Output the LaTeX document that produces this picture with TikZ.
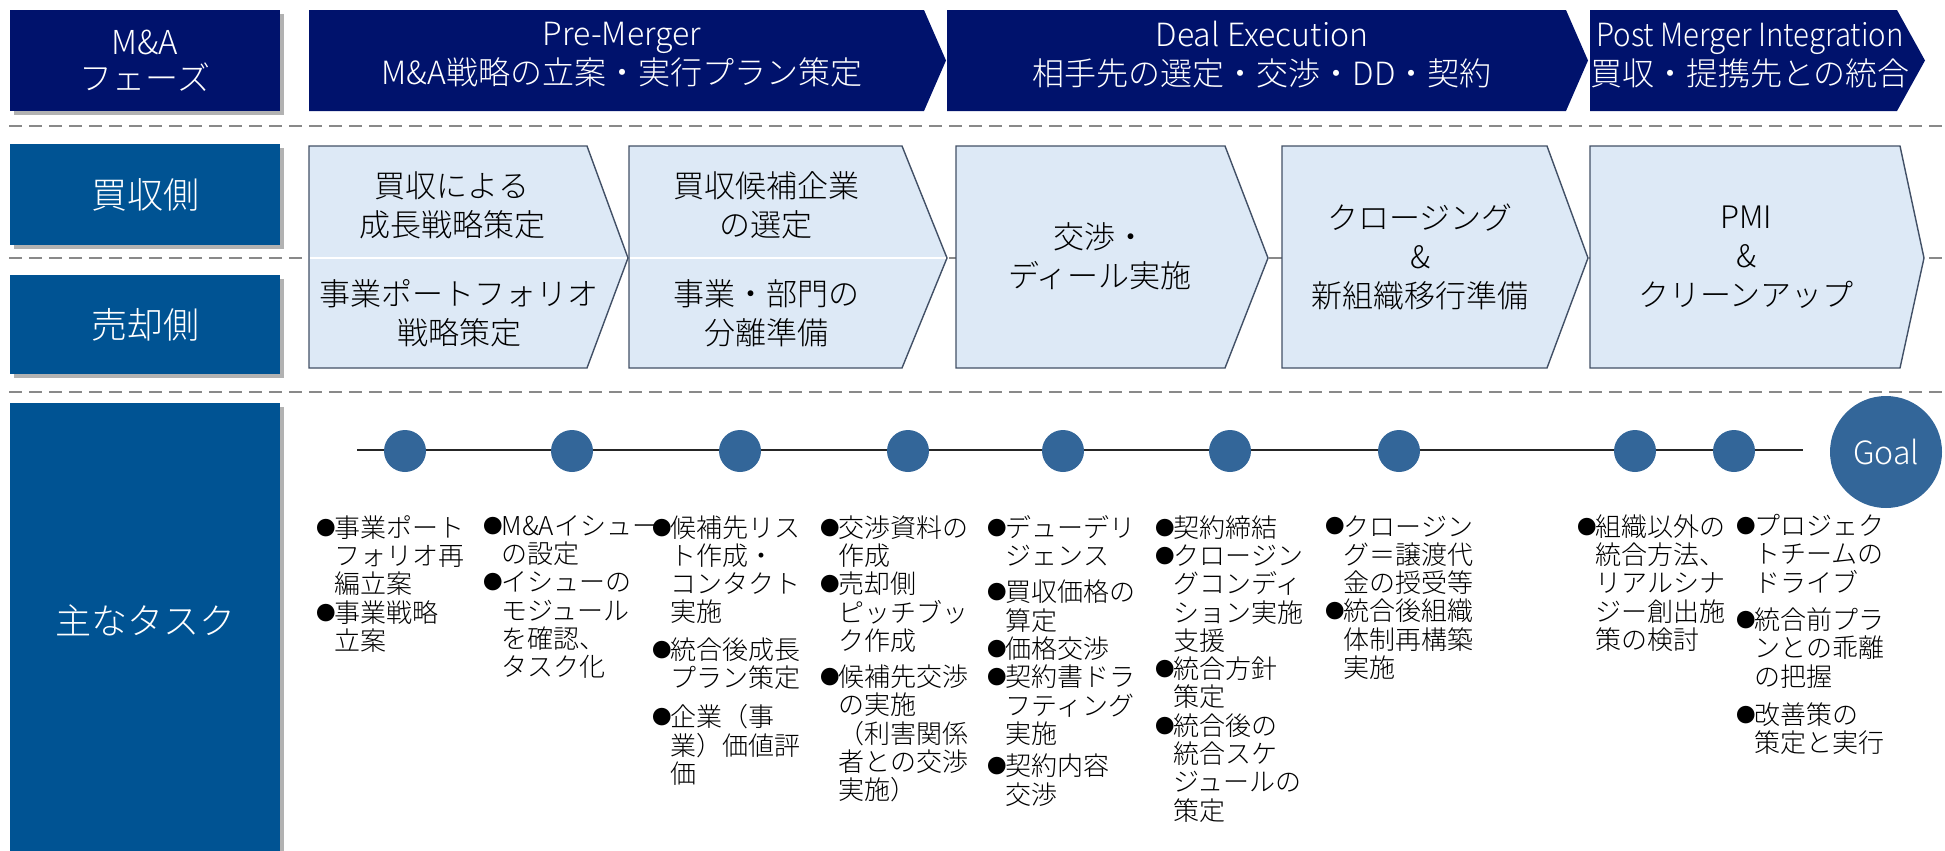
\documentclass[tikz,border=0pt]{standalone}
\usepackage{fontspec}
\usepackage{graphicx}
\setmainfont{Noto Sans CJK JP Light}
\usetikzlibrary{shadows}

\definecolor{phasenavy}{RGB}{0,18,108}
\definecolor{sideblue}{RGB}{0,83,147}
\definecolor{chevfill}{RGB}{221,233,246}
\definecolor{chevline}{RGB}{66,80,102}
\definecolor{dotblue}{RGB}{51,102,153}
\definecolor{dashgray}{RGB}{137,137,137}

\newcommand{\bul}{\makebox[0.7em][l]{\raisebox{0.08em}{\scalebox{0.75}{●}}}}
\newcommand{\cont}{\hspace*{0.7em}}

\begin{document}
\begin{tikzpicture}[x=0.5pt, y=-0.5pt,
	sidebox/.style={fill=sideblue, text=white, align=center, inner sep=0,
		minimum width=135pt, font=\fontsize{18}{22}\selectfont,
		drop shadow={shadow xshift=2pt, shadow yshift=-2pt, fill=black, opacity=0.3}},
	headtext/.style={text=white, align=center, font=\fontsize{16}{19.5}\selectfont},
	chev/.style={fill=chevfill, draw=chevline, line width=0.7pt},
	chevtext/.style={align=center, font=\fontsize{15.5}{19.5}\selectfont},
	task/.style={anchor=north west, inner sep=0, align=left, font=\fontsize{13}{14.15}\selectfont},
	dot/.style={circle, fill=dotblue, minimum size=21pt, inner sep=0},
	dashline/.style={draw=dashgray, line width=1.3pt, dash pattern=on 6.5pt off 3.5pt}]

	\useasboundingbox (0, 0) rectangle (1945, 851);

	% dashed separators
	\draw [dashline] (9, 126) -- (1945, 126);
	\draw [dashline] (9, 258) -- (1945, 258);
	\draw [dashline] (9, 392) -- (1945, 392);

	% phase header
	\node[sidebox, fill=phasenavy, minimum height=50.5pt, font=\fontsize{16.5}{18}\selectfont] (phase) at (145, 60.5) {M\&A\\フェーズ};
	\fill [phasenavy] (309, 10) -- (924, 10) -- (946, 60.5) -- (924, 111) -- (309, 111) -- cycle;
	\fill [phasenavy] (947, 10) -- (1566, 10) -- (1588, 60.5) -- (1566, 111) -- (947, 111) -- cycle;
	\fill [phasenavy] (1590, 10) -- (1897, 10) -- (1925, 60.5) -- (1897, 111) -- (1590, 111) -- cycle;
	\node[headtext] (pre) at (622, 55) {Pre-Merger\\M\&A戦略の立案・実行プラン策定};
	\node[headtext] (deal) at (1262, 55) {Deal Execution\\相手先の選定・交渉・DD・契約};
	\node[headtext] (pmi) at (1750, 55) {\scalebox{0.92}[1]{Post Merger Integration}\\買収・提携先との統合};

	% buy / sell side
	\node[sidebox, minimum height=50.5pt] (buy) at (145, 194.5) {買収側};
	\node[sidebox, minimum height=49.5pt] (sell) at (145, 324.5) {売却側};

	% chevrons
	\draw [chev] (309, 146) -- (587, 146) -- (628, 258) -- (587, 368) -- (309, 368) -- cycle;
	\draw [chev] (629, 146) -- (902, 146) -- (947, 258) -- (902, 368) -- (629, 368) -- cycle;
	\draw [chev] (956, 146) -- (1225, 146) -- (1268, 258) -- (1225, 368) -- (956, 368) -- cycle;
	\draw [chev] (1282, 146) -- (1547, 146) -- (1588, 258) -- (1547, 368) -- (1282, 368) -- cycle;
	\draw [chev] (1590, 146) -- (1900, 146) -- (1924, 258) -- (1900, 368) -- (1590, 368) -- cycle;
	\draw [white, line width=1.2pt] (310, 258) -- (627, 258);
	\draw [white, line width=1.2pt] (630, 258) -- (946, 258);

	\node[chevtext] (buy1) at (452, 205) {買収による\\成長戦略策定};
	\node[chevtext] (sell1) at (459, 313) {事業ポートフォリオ\\戦略策定};
	\node[chevtext] (buy2) at (766, 205) {買収候補企業\\の選定};
	\node[chevtext] (sell2) at (766, 313) {事業・部門の\\分離準備};
	\node[chevtext] (deal3) at (1100, 256) {交渉・\\ディール実施};
	\node[chevtext] (close4) at (1420, 257) {クロージング\\\&\\新組織移行準備};
	\node[chevtext] (pmi5) at (1746, 257) {PMI\\\&\\クリーンアップ};

	% main tasks
	\node[sidebox, minimum height=224pt] (taskbox) at (145, 627) {};
	\node[text=white, font=\fontsize{18}{22}\selectfont] (tasklbl) at (145, 620) {主なタスク};

	% timeline
	\coordinate (tlstart) at (357, 450);
	\coordinate (tlend) at (1803, 450);
	\draw [line width=1pt, black!85] (tlstart) -- (tlend);
	\node[dot] (m1) at (405, 451) {};
	\node[dot] (m2) at (572, 451) {};
	\node[dot] (m3) at (740, 451) {};
	\node[dot] (m4) at (908, 451) {};
	\node[dot] (m5) at (1063, 451) {};
	\node[dot] (m6) at (1230, 451) {};
	\node[dot] (m7) at (1399, 451) {};
	\node[dot] (m8) at (1635, 451) {};
	\node[dot] (m9) at (1734, 451) {};
	\node[dot, minimum size=56pt, text=white, font=\fontsize{16}{18}\selectfont] (goal) at (1886, 452) {Goal};

	% task lists
	\node[task] (t1) at (316, 515) {\bul 事業ポート\\\cont フォリオ再\\\cont 編立案\\\bul 事業戦略\\\cont 立案};
	\node[task] (t2) at (483, 515) {\bul M\&Aイシュー\\\cont の設定\\\bul イシューの\\\cont モジュール\\\cont を確認、\\\cont タスク化};
	\node[task] (t3) at (652, 515) {\bul 候補先リス\\\cont ト作成・\\\cont コンタクト\\\cont 実施\\[4.5pt]\bul 統合後成長\\\cont プラン策定\\[5.5pt]\bul 企業（事\\\cont 業）価値評\\\cont 価};
	\node[task] (t4) at (820, 515) {\bul 交渉資料の\\\cont 作成\\\bul 売却側\\\cont ピッチブッ\\\cont ク作成\\[4pt]\bul 候補先交渉\\\cont の実施\\\cont （利害関係\\\cont 者との交渉\\\cont 実施）};
	\node[task] (t5) at (987, 515) {\bul デューデリ\\\cont ジェンス\\[4pt]\bul 買収価格の\\\cont 算定\\\bul 価格交渉\\\bul 契約書ドラ\\\cont フティング\\\cont 実施\\[2pt]\bul 契約内容\\\cont 交渉};
	\node[task] (t6) at (1155, 515) {\bul 契約締結\\\bul クロージン\\\cont グコンディ\\\cont ション実施\\\cont 支援\\\bul 統合方針\\\cont 策定\\\bul 統合後の\\\cont 統合スケ\\\cont ジュールの\\\cont 策定};
	\node[task] (t7) at (1325, 515) {\bul クロージン\\\cont グ＝譲渡代\\\cont 金の授受等\\\bul 統合後組織\\\cont 体制再構築\\\cont 実施};
	\node[task] (t8) at (1577, 514) {\bul 組織以外の\\\cont 統合方法、\\\cont リアルシナ\\\cont ジー創出施\\\cont 策の検討};
	\node[task] (t9) at (1736, 514) {\bul プロジェク\\\cont トチームの\\\cont ドライブ\\[4.5pt]\bul 統合前プラ\\\cont ンとの乖離\\\cont の把握\\[5pt]\bul 改善策の\\\cont 策定と実行};
\end{tikzpicture}
\end{document}
